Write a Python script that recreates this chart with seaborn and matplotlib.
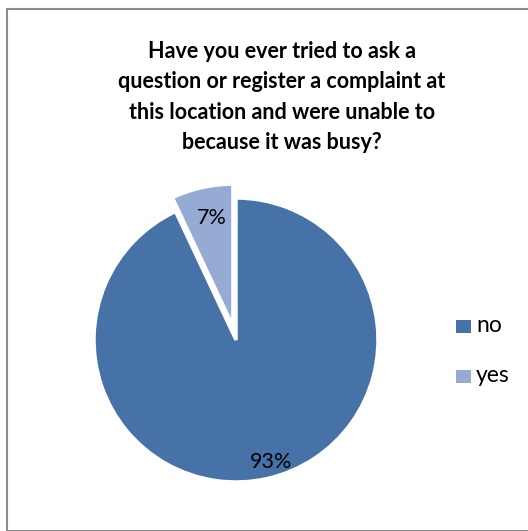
import matplotlib
matplotlib.use("Agg")
import matplotlib.pyplot as plt
import seaborn as sns
from matplotlib.patches import Rectangle

sns.set_theme(style="white")
plt.rcParams["font.family"] = ["Lato", "DejaVu Sans"]

categories = ["no", "yes"]
percentages = [93, 7]
colors = ["#4672A8", "#95ABD4"]
title = ("Have you ever tried to ask a\nquestion or register a complaint at\n"
         "this location and were unable to\nbecause it was busy?")

W, H = 528, 531
fig = plt.figure(figsize=(W / 100, H / 100), dpi=100)

# outer chart border
fig.patches.append(Rectangle((7 / W, 0), 1, 1 - 9 / H, transform=fig.transFigure,
                             fill=False, edgecolor="#8c8c8c", linewidth=1.5))

cx, cy, r = 236, 340, 142
ax = fig.add_axes([(cx - r) / W, 1 - (cy + r) / H, 2 * r / W, 2 * r / H])
wedges, texts, autotexts = ax.pie(
    percentages, colors=colors, startangle=90, counterclock=False,
    explode=[0, 0.1], autopct="%d%%", pctdistance=0.78,
    wedgeprops=dict(edgecolor="white", linewidth=2.5),
    textprops=dict(fontsize=15.5, color="black"))
for w in wedges:
    w.set_clip_on(False)
ax.set_xlim(-1, 1)
ax.set_ylim(-1, 1)
ax.set_aspect("equal")
ax.axis("off")

autotexts[0].set_position((0.25, -0.86))
autotexts[1].set_position((-0.17, 0.86))

fig.text(282 / W, 1 - 97 / H, title, ha="center", va="center", fontsize=15.5,
         fontweight="bold", linespacing=1.55, color="black")

for i, (lab, col) in enumerate(zip(categories, colors)):
    y = 1 - (326 + 50 * i) / H
    fig.patches.append(Rectangle((456 / W, y - 7 / H), 15 / W, 13 / H,
                                 transform=fig.transFigure, facecolor=col,
                                 edgecolor="none"))
    fig.text(476 / W, y, lab, ha="left", va="center", fontsize=16.5, color="black")

fig.savefig("out.png", dpi=100)
